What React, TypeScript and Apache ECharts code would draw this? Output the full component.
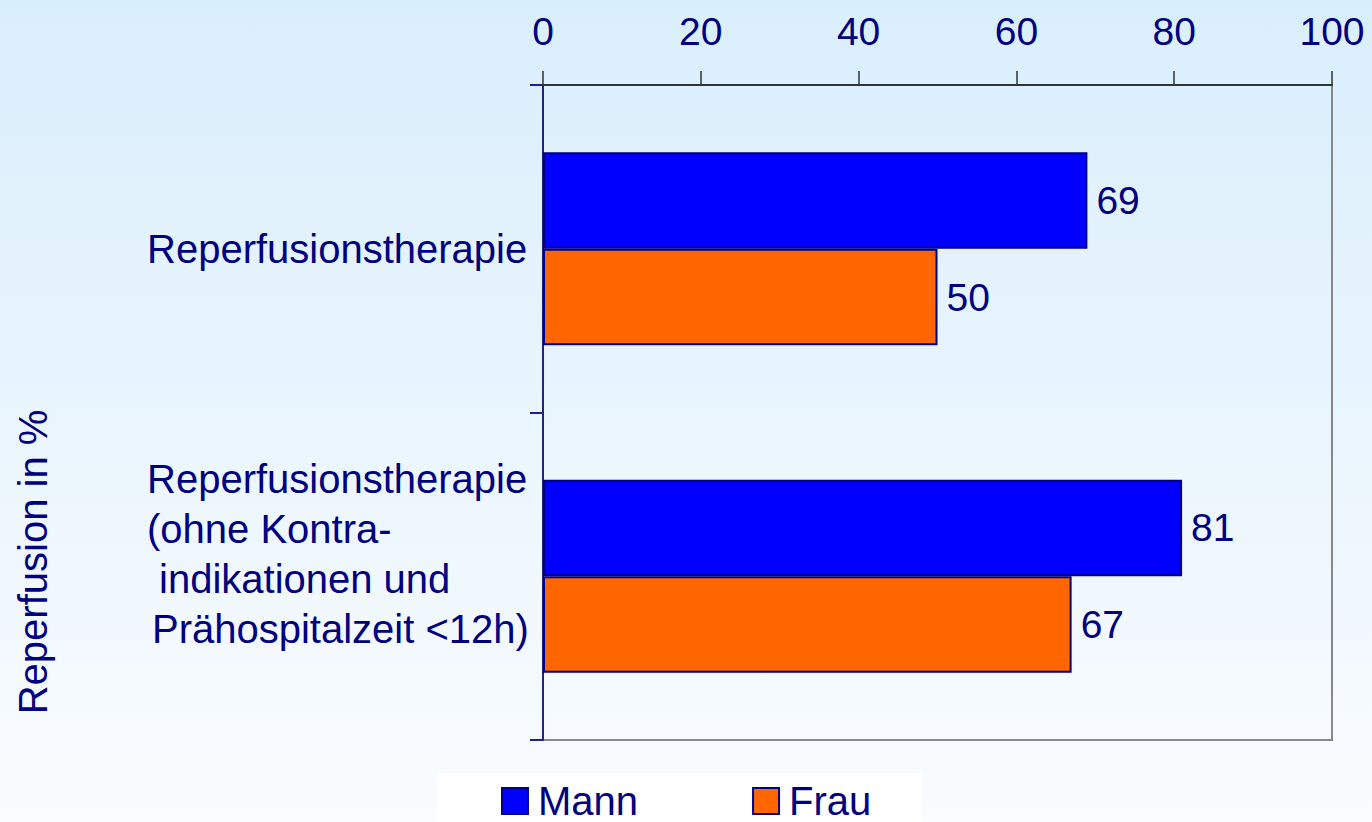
import React, { useEffect, useRef } from "react";
import * as echarts from "echarts";

const categories = [
  "Reperfusionstherapie",
  "Reperfusionstherapie\n(ohne Kontra-\nindikationen und\nPrähospitalzeit <12h)",
];
const seriesNames = ["Mann", "Frau"];
const mannValues = [69, 81];
const frauValues = [50, 67];
const xTicks = { min: 0, max: 100, interval: 20 };
const yAxisTitle = "Reperfusion in %";

const NAVY = "#000080";
const FONT = "'Liberation Sans', Arial, Helvetica, sans-serif";
const FS = 39;
const FSL = 40;

export default function App() {
  const ref = useRef<HTMLDivElement>(null);
  useEffect(() => {
    if (!ref.current) return;
    const chart = echarts.init(ref.current, undefined, { renderer: "svg" });
    const labelStyle = {
      show: true,
      position: "right",
      distance: 9,
      color: NAVY,
      fontSize: FS,
      fontFamily: FONT,
    };
    const richBase = { color: NAVY, fontSize: FSL, fontFamily: FONT, lineHeight: 50, align: "left" };
    chart.setOption({
      animation: false,
      backgroundColor: new echarts.graphic.LinearGradient(0, 0, 0, 1, [
        { offset: 0, color: "#d9eefc" },
        { offset: 1, color: "#fafcff" },
      ]),
      textStyle: { fontFamily: FONT },
      grid: {
        left: 543,
        right: 40,
        top: 85,
        bottom: 82,
        outerBoundsMode: "none",
        containLabel: false,
        show: true,
        backgroundColor: "transparent",
        borderColor: "#888888",
        borderWidth: 2,
      },
      graphic: [
        {
          type: "rect",
          z: 0,
          shape: { x: 437, y: 773, width: 485, height: 49 },
          style: { fill: "#ffffff" },
        },
        {
          type: "text",
          x: 33,
          y: 562,
          rotation: Math.PI / 2,
          style: {
            text: yAxisTitle,
            fill: NAVY,
            font: `${FSL}px ${FONT}`,
            align: "center",
            verticalAlign: "middle",
          },
        },
      ],
      legend: {
        data: seriesNames,
        left: 501,
        top: 781,
        padding: 0,
        itemWidth: 26,
        itemHeight: 26,
        itemGap: 114,
        icon: "rect",
        textStyle: {
          color: NAVY,
          fontSize: FSL,
          fontFamily: FONT,
          lineHeight: 40,
          padding: [0, 0, 0, 5],
        },
      },
      xAxis: {
        type: "value",
        position: "top",
        min: xTicks.min,
        max: xTicks.max,
        interval: xTicks.interval,
        axisLine: { show: true, lineStyle: { color: "#333333", width: 2 } },
        axisTick: { show: true, inside: false, length: 14, lineStyle: { color: "#333333", width: 1.5 } },
        axisLabel: { color: NAVY, fontSize: FS, fontFamily: FONT, margin: 34 },
        splitLine: { show: false },
      },
      yAxis: {
        type: "category",
        inverse: true,
        data: categories,
        axisLine: { show: true, lineStyle: { color: "#22228a", width: 2 } },
        axisTick: { show: true, inside: false, length: 13, lineStyle: { color: "#22228a", width: 2 } },
        axisLabel: {
          color: NAVY,
          fontSize: FSL,
          fontFamily: FONT,
          lineHeight: 50,
          margin: 14,
          formatter: (value: string) => {
            const lines = value.split("\n");
            if (lines.length === 1) return `{a|${lines[0]}}`;
            const keys = ["a", "a", "b", "c"];
            return lines.map((l, i) => `{${keys[i] || "a"}|${l}}`).join("\n") + "\n{e| }";
          },
          rich: {
            a: { ...richBase, width: 382 },
            b: { ...richBase, width: 370, padding: [0, 0, 0, 12] },
            c: { ...richBase, width: 377, padding: [0, 0, 0, 5] },
            e: { ...richBase, lineHeight: 44, height: 44, width: 382 },
          },
        },
      },
      series: [
        {
          name: seriesNames[0],
          type: "bar",
          data: mannValues,
          barGap: "0%",
          barCategoryGap: "41%",
          itemStyle: { color: "#0000ff", borderColor: NAVY, borderWidth: 2 },
          label: labelStyle,
        },
        {
          name: seriesNames[1],
          type: "bar",
          data: frauValues,
          barGap: "0%",
          barCategoryGap: "41%",
          itemStyle: { color: "#ff6600", borderColor: NAVY, borderWidth: 2 },
          label: labelStyle,
        },
      ],
    });
    return () => chart.dispose();
  }, []);
  return (
    <div
      ref={ref}
      style={{ position: "fixed", left: 0, top: 0, width: 1372, height: 822 }}
    />
  );
}
